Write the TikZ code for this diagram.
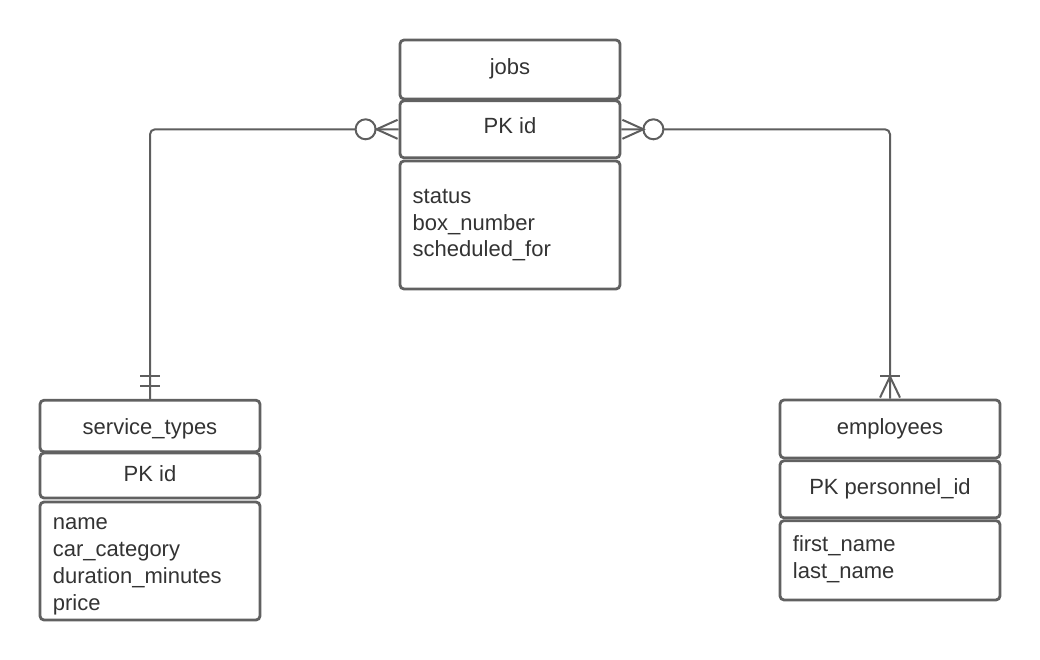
\documentclass[tikz,border=0pt]{standalone}
\usepackage{fontspec}
\setmainfont{Liberation Sans}
\usetikzlibrary{calc}
\definecolor{boxc}{HTML}{616161}
\definecolor{linec}{HTML}{5E5E5E}
\definecolor{txtc}{HTML}{333333}
\begin{document}
\begin{tikzpicture}[x=1pt,y=-1pt,
  tbox/.style={draw=boxc, line width=2.8pt, rounded corners=4pt, fill=white,
    inner sep=0pt, minimum width=220pt},
  txt/.style={text=txtc, inner sep=0pt, font=\fontsize{22}{26.7}\selectfont},
  attr/.style={txt, align=left, anchor=base west},
  conn/.style={draw=linec, line width=2pt},
  endcirc/.style={draw=linec, line width=2pt, fill=white}]
\useasboundingbox (0,0) rectangle (1040,660);

% jobs table
\node[tbox, minimum height=59pt]  (jobsT) at (510,69.5) {};
\node[tbox, minimum height=57pt]  (jobsK) at (510,129.3) {};
\node[tbox, minimum height=128pt] (jobsA) at (510,225) {};
\node[txt, anchor=base] (jobsTt) at (510,74.3) {jobs};
\node[txt, anchor=base] (jobsKt) at (510,134) {PK id};
% attribute lists are placed by the baseline of their last line
\node[attr] (jobsAt) at (412.5,256.7) {status\\box\_number\\scheduled\_for};

% service_types table
\node[tbox, minimum height=51.5pt] (stT) at (150,426) {};
\node[tbox, minimum height=45pt]   (stK) at (150,475.5) {};
\node[tbox, minimum height=118pt]  (stA) at (150,561) {};
\node[txt, anchor=base] (stTt) at (150,434.3) {service\_types};
\node[txt, anchor=base] (stKt) at (150,481.7) {PK id};
\node[attr] (stAt) at (52.7,610) {name\\car\_category\\duration\_minutes\\price};

% employees table
\node[tbox, minimum height=58pt]   (empT) at (890,429) {};
\node[tbox, minimum height=57pt]   (empK) at (890,489.3) {};
\node[tbox, minimum height=79.3pt] (empA) at (890,560.3) {};
\node[txt, anchor=base] (empTt) at (890,434.3) {employees};
\node[txt, anchor=base] (empKt) at (890,494) {PK personnel\_id};
\node[attr] (empAt) at (792.7,578.5) {first\_name\\last\_name};

% jobs -> service_types (zero-or-many to exactly one)
\draw[conn, rounded corners=5pt] (jobsK.west) -| (stT.north);
\draw[endcirc] ($(jobsK.west)+(-33,0)$) circle[radius=10];
\draw[conn] ($(jobsK.west)+(-1,-9.5)$) -- ($(jobsK.west)+(-22,0)$) -- ($(jobsK.west)+(-1,9.5)$);
\draw[conn] ($(stT.north)+(-10,-23)$) -- ($(stT.north)+(10,-23)$);
\draw[conn] ($(stT.north)+(-10,-12.5)$) -- ($(stT.north)+(10,-12.5)$);

% jobs -> employees (zero-or-many to one-or-many)
\draw[conn, rounded corners=5pt] (jobsK.east) -| (empT.north);
\draw[endcirc] ($(jobsK.east)+(32,0)$) circle[radius=10];
\draw[conn] ($(jobsK.east)+(1,-9.5)$) -- ($(jobsK.east)+(22,0)$) -- ($(jobsK.east)+(1,9.5)$);
\draw[conn] ($(empT.north)+(-10,-23)$) -- ($(empT.north)+(10,-23)$);
\draw[conn] ($(empT.north)+(-10,-1)$) -- ($(empT.north)+(0,-22)$) -- ($(empT.north)+(10,-1)$);
\end{tikzpicture}
\end{document}
